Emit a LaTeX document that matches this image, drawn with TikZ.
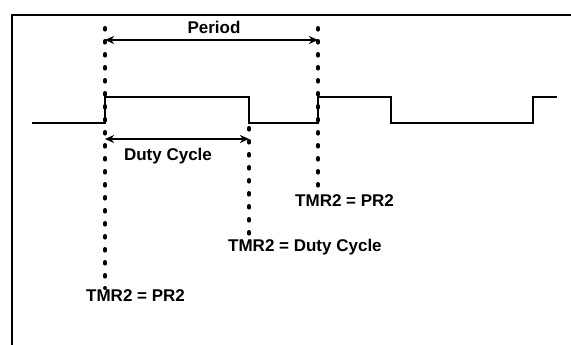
\documentclass[tikz,border=0pt]{standalone}
\usepackage{fontspec}
\setmainfont{Liberation Sans}
\usetikzlibrary{positioning,arrows.meta,calc}

\begin{document}
\begin{tikzpicture}[
    x=1pt, y=-1pt,
    node distance=3mm,
    lbl/.style={font=\fontsize{17}{19}\selectfont\bfseries, inner sep=1pt},
    frameline/.style={line width=2.4pt},
    wave/.style={line width=2.6pt, line join=miter},
    dotline/.style={line width=4pt, line cap=round, dash pattern=on 1.6pt off 11.4pt},
    dim/.style={line width=1.6pt, {Stealth[length=3.2mm,width=2.8mm]}-{Stealth[length=3.2mm,width=2.8mm]}},
    >={Stealth[length=1.6mm]}]
    \useasboundingbox (0,0) rectangle (571,345);
    % frame
    \draw[frameline] (12,345) -- (12,15) -- (571,15);
    % edges of the PWM pulse
    \coordinate (rise1) at (105,97);
    \coordinate (fall1) at (249,97);
    \coordinate (rise2) at (318,97);
    \coordinate (fall2) at (391,97);
    \coordinate (rise3) at (533,97);
    % waveform
    \draw[wave] (32,123) -| (rise1) -- (fall1) |- (rise2 |- 0,123) -- (rise2)
      -- (fall2) |- (rise3 |- 0,123) -- (rise3) -- (557,97);
    % tops of the marker lines
    \coordinate (mk1) at (105,28);
    \coordinate (mk2) at (318,28);
    \coordinate (mk3) at (249,128);
    % labels
    \node[lbl] (period) at (214,27) {Period};
    \node[lbl] (duty) at (168,156) {Duty Cycle};
    \node[lbl, anchor=north west] (pr2b) at (294,193) {TMR2 = PR2};
    \node[lbl, anchor=north west] (dutyeq) at (227,238) {TMR2 = Duty Cycle};
    \node[lbl, anchor=north west] (pr2a) at (85,288) {TMR2 = PR2};
    % marker lines
    \draw[dotline] (mk1) -- (mk1 |- pr2a.north);
    \draw[dotline] (mk2) -- (mk2 |- pr2b.north);
    \draw[dotline] (mk3) -- (mk3 |- dutyeq.north);
    % dimensions
    \draw[dim] ($(mk1)+(0,12)$) -- ($(mk2)+(0,12)$);
    \draw[dim, line width=2.2pt] (mk1 |- 0,139) -- (mk3 |- 0,139);
\end{tikzpicture}
\end{document}
